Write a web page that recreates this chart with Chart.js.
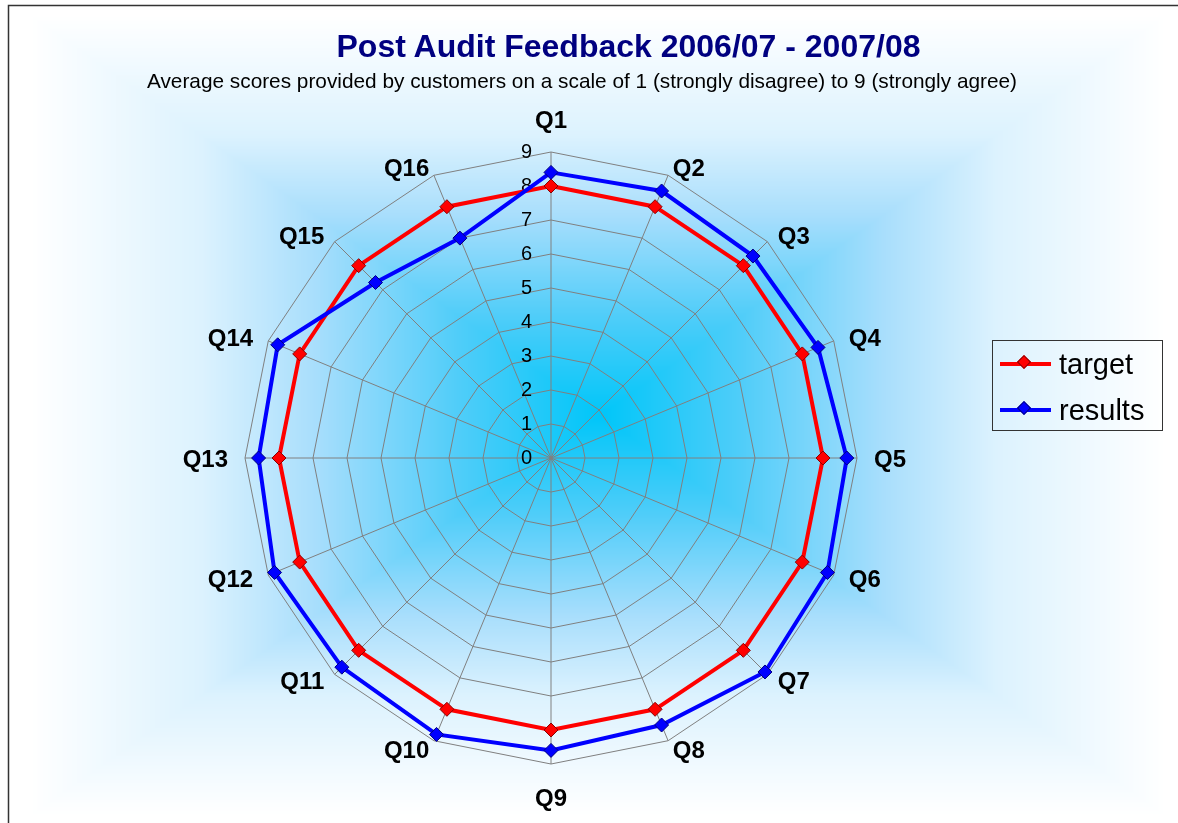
<!DOCTYPE html>
<html lang="en">
<head>
  <meta charset="UTF-8" />
  <script src="https://cdn.jsdelivr.net/npm/chart.js"></script>
  <title>Post Audit Feedback</title>
  <style>
    body { margin: 0; background: #fff; font-family: "Liberation Sans", Arial, sans-serif; }
    #wrap { position: relative; width: 1178px; height: 823px; overflow: hidden; }
    #grafico { position: absolute; left: 0; top: 0; }
    .txt { position: absolute; white-space: nowrap; transform: translateX(-50%); }
    #titulo { left: 628.5px; top: 30px; font-size: 32px; line-height: 32px; font-weight: bold; color: #000080; }
    #subtitulo { left: 582px; top: 70px; font-size: 20.8px; line-height: 21px; color: #000; }
    #leyenda { position: absolute; left: 992px; top: 340px; width: 169px; height: 89px; border: 1px solid #333; }
    .fila { position: absolute; left: 0; height: 46px; display: flex; align-items: center; }
    .linea { position: relative; width: 51px; height: 4px; margin-left: 7px; }
    .rombo { position: absolute; left: 19px; top: -5px; width: 10px; height: 10px; border: 1px solid; box-sizing: border-box; transform: rotate(45deg); }
    .etiqueta { font-size: 29px; margin-left: 8px; color: #000; }
  </style>
</head>
<body>
  <div id="wrap">
    <canvas id="grafico" width="1178" height="823"></canvas>
    <div id="titulo" class="txt">Post Audit Feedback 2006/07 - 2007/08</div>
    <div id="subtitulo" class="txt">Average scores provided by customers on a scale of 1 (strongly disagree) to 9 (strongly agree)</div>
    <div id="leyenda"></div>
  </div>
  <script>
    const preguntas = ['Q1', 'Q2', 'Q3', 'Q4', 'Q5', 'Q6', 'Q7', 'Q8',
                       'Q9', 'Q10', 'Q11', 'Q12', 'Q13', 'Q14', 'Q15', 'Q16'];
    const target = [8, 8, 8, 8, 8, 8, 8, 8, 8, 8, 8, 8, 8, 8, 8, 8];
    const results = [8.4, 8.5, 8.4, 8.5, 8.7, 8.8, 8.9, 8.5, 8.6, 8.8, 8.7, 8.8, 8.6, 8.7, 7.3, 7.0];
    const tickValues = [0, 1, 2, 3, 4, 5, 6, 7, 8, 9];
    const fuente = '"Liberation Sans", Arial, sans-serif';

    const series = [
      { label: 'target', data: target, color: '#ff0000', borde: '#8b0000' },
      { label: 'results', data: results, color: '#0000ff', borde: '#000080' }
    ];

    // fondo con degradado rectangular (tipo "path" de Excel), pixel a pixel
    const fondo = {
      id: 'fondo',
      beforeDraw(chart) {
        const ctx = chart.ctx;
        const W = chart.width, H = chart.height;
        const L = 30, T = 15, R = 1165, B = 815, cx = 600, cy = 415;
        const stops = [[0, [255, 255, 255]], [0.3, [220, 242, 254]], [0.5, [168, 222, 252]],
                       [0.75, [80, 205, 249]], [1, [0, 198, 249]]];
        const img = ctx.createImageData(W, H);
        const d = img.data;
        for (let y = 0; y < H; y++) {
          const ty = y < cy ? (cy - y) / (cy - T) : (y - cy) / (B - cy);
          for (let x = 0; x < W; x++) {
            const tx = x < cx ? (cx - x) / (cx - L) : (x - cx) / (R - cx);
            const t = Math.max(0, 1 - Math.max(tx, ty));
            let k = 1;
            while (k < stops.length - 1 && t > stops[k][0]) k++;
            const a = stops[k - 1], b = stops[k];
            const f = Math.min(1, Math.max(0, (t - a[0]) / (b[0] - a[0])));
            const p = (y * W + x) * 4;
            for (let c = 0; c < 3; c++) d[p + c] = a[1][c] + (b[1][c] - a[1][c]) * f;
            d[p + 3] = 255;
          }
        }
        ctx.putImageData(img, 0, 0);
        ctx.save();
        ctx.fillStyle = '#fff';
        ctx.fillRect(0, 0, 8, H);
        ctx.fillRect(0, 0, W, 5);
        ctx.strokeStyle = '#333';
        ctx.lineWidth = 1.5;
        ctx.beginPath();
        ctx.moveTo(8.5, H);
        ctx.lineTo(8.5, 5.5);
        ctx.lineTo(W, 5.5);
        ctx.stroke();
        ctx.restore();
      }
    };

    // numeros de la escala y etiquetas Q1..Q16 (al estilo de Excel)
    const textos = {
      id: 'textos',
      beforeDatasetsDraw(chart) {
        const s = chart.scales.r;
        const ctx = chart.ctx;
        ctx.save();
        ctx.fillStyle = '#000';
        ctx.font = '20px ' + fuente;
        ctx.textAlign = 'right';
        ctx.textBaseline = 'middle';
        tickValues.forEach(v => {
          ctx.fillText(String(v), s.xCenter - 19, s.yCenter - s.getDistanceFromCenterForValue(v));
        });
        ctx.font = 'bold 24px ' + fuente;
        s.getLabels().forEach((lab, i) => {
          const ang = s.getIndexAngle(i);
          const sin = Math.sin(ang), cos = Math.cos(ang);
          const p = s.getPointPosition(i, s.drawingArea);
          if (Math.abs(sin) < 0.01) {
            ctx.textAlign = 'center';
            ctx.fillText(lab, p.x, p.y - cos * 33 + 2);
          } else {
            ctx.textAlign = sin > 0 ? 'left' : 'right';
            ctx.fillText(lab, p.x + sin * (9 + 8 * Math.abs(sin)), p.y - cos * 9 + 2);
          }
        });
        ctx.restore();
      }
    };

    const ctx = document.getElementById('grafico').getContext('2d');
    new Chart(ctx, {
      type: 'radar',
      data: {
        labels: preguntas,
        datasets: series.map((s, i) => ({
          label: s.label,
          data: s.data,
          borderColor: s.color,
          backgroundColor: s.color,
          borderWidth: 4,
          fill: false,
          pointStyle: 'rectRot',
          pointRadius: 7,
          pointBackgroundColor: s.color,
          pointBorderColor: s.borde,
          pointBorderWidth: 1,
          order: 2 - i
        }))
      },
      options: {
        responsive: false,
        animation: false,
        devicePixelRatio: 1,
        layout: { padding: { left: 245, right: 321, top: 152, bottom: 59 } },
        elements: { line: { tension: 0 } },
        plugins: { legend: { display: false }, tooltip: { enabled: false } },
        scales: {
          r: {
            min: 0,
            max: 9,
            ticks: { stepSize: 1, display: false },
            grid: { color: '#808080', lineWidth: 1 },
            angleLines: { color: '#808080', lineWidth: 1 },
            pointLabels: { display: false }
          }
        }
      },
      plugins: [fondo, textos]
    });

    // leyenda
    const leyenda = document.getElementById('leyenda');
    series.forEach((s, i) => {
      const fila = document.createElement('div');
      fila.className = 'fila';
      fila.style.top = (i * 46) + 'px';
      fila.innerHTML = '<div class="linea" style="background:' + s.color + '">' +
        '<div class="rombo" style="background:' + s.color + ';border-color:' + s.borde + '"></div></div>' +
        '<span class="etiqueta">' + s.label + '</span>';
      leyenda.appendChild(fila);
    });
  </script>
</body>
</html>
